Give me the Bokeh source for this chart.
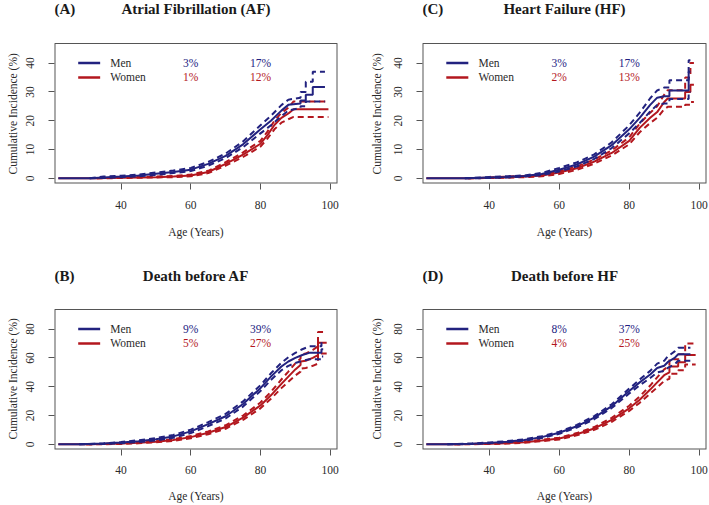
from bokeh.plotting import figure
from bokeh.layouts import column, row
from bokeh.models import FixedTicker, Range1d, Title
from bokeh.core.properties import value
from bokeh.embed import file_html
from bokeh.resources import INLINE

FONT = "Liberation Serif"
MEN_C = "#22227f"
WOMEN_C = "#b3171e"
TXT = "#2a2a2a"
FRAME = "#555555"

X_TICKS = [40, 60, 80, 100]
Y_TICKS_INC = [0, 10, 20, 30, 40]
Y_TICKS_DEATH = [0, 20, 40, 60, 80]
LEGEND_LABELS = ["Men", "Women"]

# (A) Atrial fibrillation
AF_M_AGE = [22, 31, 35, 40, 45, 50, 55, 60, 65, 70, 75, 80, 83, 86, 88, 91.5, 91.5, 93, 93, 95, 95, 98.5]
AF_M_EST = [0, 0, 0.3, 0.6, 1.0, 1.6, 2.2, 3.0, 5.0, 7.8, 11.8, 17.0, 20.0, 23.5, 25.5, 26.0, 27.0, 27.0, 29.0, 29.0, 31.7, 31.7]
AF_M_LO = [0, 0, 0.1, 0.4, 0.7, 1.2, 1.8, 2.5, 4.4, 7.0, 10.8, 15.6, 18.4, 21.6, 23.5, 24.5, 25.0, 25.0, 26.7, 26.7, 26.7, 26.7]
AF_M_HI = [0, 0, 0.6, 0.9, 1.3, 2.0, 2.7, 3.6, 5.7, 8.6, 12.8, 18.4, 21.7, 25.4, 27.3, 28.0, 30.0, 30.0, 33.5, 33.5, 37.0, 37.0]
AF_W_AGE = [22, 33, 40, 45, 50, 55, 60, 65, 70, 75, 80, 82, 84, 86, 88, 89.5, 91, 93, 99.5]
AF_W_EST = [0, 0, 0.2, 0.3, 0.4, 0.6, 1.0, 2.2, 5.0, 8.2, 12.0, 15.0, 18.5, 21.0, 22.5, 24.0, 24.0, 24.0, 24.0]
AF_W_LO = [0, 0, 0.1, 0.2, 0.3, 0.4, 0.7, 1.8, 4.4, 7.4, 11.0, 13.8, 17.0, 19.3, 20.5, 21.3, 21.3, 21.3, 21.3]
AF_W_HI = [0, 0, 0.3, 0.5, 0.6, 0.8, 1.3, 2.6, 5.6, 9.0, 13.0, 16.2, 20.0, 22.7, 24.5, 26.7, 26.7, 26.7, 26.7]
AF_AT60 = [3, 1]
AF_AT80 = [17, 12]

# (B) Death before AF
DA_M_AGE = [22, 28, 35, 40, 45, 50, 55, 60, 65, 70, 75, 80, 83, 86, 88, 90, 92, 94, 96, 97.5, 97.5, 98]
DA_M_EST = [0, 0, 0.5, 1.2, 2.2, 3.5, 5.5, 9.0, 14.0, 19.5, 28.0, 39.0, 47.0, 54.0, 57.5, 60.0, 62.0, 63.5, 63.5, 63.5, 66.0, 66.0]
DA_M_LO = [0, 0, 0.3, 0.8, 1.6, 2.7, 4.5, 7.8, 12.6, 17.9, 26.2, 37.0, 44.7, 51.4, 54.5, 56.5, 58.0, 59.0, 59.0, 59.0, 61.0, 61.0]
DA_M_HI = [0, 0, 0.7, 1.6, 2.8, 4.3, 6.5, 10.2, 15.4, 21.1, 29.8, 41.0, 49.3, 56.6, 60.5, 63.5, 66.0, 68.0, 68.0, 68.0, 71.0, 71.0]
DA_W_AGE = [22, 30, 35, 40, 45, 50, 55, 60, 65, 70, 75, 80, 83, 86, 88, 90, 91.5, 91.5, 93, 95, 96.5, 96.5, 99]
DA_W_EST = [0, 0, 0.2, 0.5, 1.0, 1.8, 3.0, 5.0, 8.0, 12.0, 18.5, 27.0, 34.0, 42.0, 47.0, 52.0, 55.0, 57.5, 58.0, 60.0, 62.0, 70.5, 70.5]
DA_W_LO = [0, 0, 0.1, 0.3, 0.7, 1.4, 2.4, 4.2, 7.0, 10.8, 17.0, 25.0, 31.6, 39.0, 43.5, 47.8, 50.5, 52.5, 53.0, 54.5, 56.0, 63.0, 63.0]
DA_W_HI = [0, 0, 0.3, 0.7, 1.3, 2.2, 3.6, 5.8, 9.0, 13.2, 20.0, 29.0, 36.4, 45.0, 50.5, 56.2, 59.5, 62.5, 63.0, 65.5, 68.0, 78.0, 78.0]
DA_AT60 = [9, 5]
DA_AT80 = [39, 27]

# (C) Heart failure
HF_M_AGE = [22, 33, 40, 45, 50, 55, 60, 65, 70, 75, 80, 83, 86, 88, 90, 91.5, 91.5, 97, 97, 97.5]
HF_M_EST = [0, 0, 0.3, 0.5, 0.8, 1.5, 3.0, 4.8, 7.5, 11.5, 17.0, 21.0, 25.5, 28.0, 28.5, 28.5, 30.5, 30.5, 37.0, 37.0]
HF_M_LO = [0, 0, 0.1, 0.3, 0.6, 1.1, 2.4, 4.1, 6.7, 10.5, 15.6, 19.2, 23.2, 25.5, 26.0, 26.0, 27.5, 27.5, 30.0, 30.0]
HF_M_HI = [0, 0, 0.5, 0.7, 1.0, 1.9, 3.6, 5.5, 8.3, 12.5, 18.4, 22.8, 27.8, 30.5, 31.5, 31.5, 34.0, 34.0, 41.0, 41.0]
HF_W_AGE = [22, 34, 40, 45, 50, 55, 60, 65, 70, 75, 80, 83, 86, 88, 90, 91, 96, 96, 97.5, 97.5, 98.5]
HF_W_EST = [0, 0, 0.2, 0.4, 0.6, 1.0, 2.0, 3.5, 5.8, 8.8, 13.0, 17.5, 21.0, 23.0, 26.5, 27.7, 27.7, 30.0, 30.0, 32.5, 32.5]
HF_W_LO = [0, 0, 0.1, 0.2, 0.4, 0.7, 1.5, 2.9, 5.1, 7.9, 11.8, 16.0, 19.2, 21.0, 24.0, 24.8, 24.8, 25.5, 25.5, 26.5, 26.5]
HF_W_HI = [0, 0, 0.3, 0.6, 0.8, 1.3, 2.5, 4.1, 6.5, 9.7, 14.2, 19.0, 22.8, 25.0, 29.0, 30.6, 30.6, 35.0, 35.0, 40.0, 40.0]
HF_AT60 = [3, 2]
HF_AT80 = [17, 13]

# (D) Death before HF
DH_M_AGE = [22, 28, 35, 40, 45, 50, 55, 60, 65, 70, 75, 80, 83, 86, 88, 90, 91, 93, 94, 97.5]
DH_M_EST = [0, 0, 0.4, 1.0, 1.8, 3.0, 5.0, 8.0, 12.5, 18.5, 26.5, 37.0, 43.0, 48.5, 53.0, 54.5, 57.0, 60.0, 62.5, 62.5]
DH_M_LO = [0, 0, 0.2, 0.7, 1.4, 2.5, 4.4, 7.3, 11.6, 17.4, 25.2, 35.3, 41.0, 46.0, 50.0, 51.0, 53.0, 55.5, 58.0, 58.0]
DH_M_HI = [0, 0, 0.6, 1.3, 2.2, 3.5, 5.6, 8.7, 13.4, 19.6, 27.8, 38.7, 45.0, 51.0, 56.0, 58.0, 61.0, 64.5, 67.0, 67.0]
DH_W_AGE = [22, 30, 35, 40, 45, 50, 55, 60, 65, 70, 75, 80, 83, 86, 88, 90, 91.5, 91.5, 94, 94, 96, 96, 99]
DH_W_EST = [0, 0, 0.2, 0.4, 0.8, 1.5, 2.7, 4.0, 7.0, 11.0, 17.0, 25.0, 31.0, 38.0, 43.0, 48.0, 50.0, 54.0, 54.0, 57.0, 57.0, 62.0, 62.0]
DH_W_LO = [0, 0, 0.1, 0.2, 0.5, 1.1, 2.2, 3.4, 6.2, 10.0, 15.6, 23.2, 28.8, 35.2, 39.5, 44.0, 45.5, 49.0, 49.0, 51.5, 51.5, 55.5, 55.5]
DH_W_HI = [0, 0, 0.3, 0.6, 1.1, 1.9, 3.2, 4.6, 7.8, 12.0, 18.4, 26.8, 33.2, 40.8, 46.5, 52.0, 54.5, 59.0, 59.0, 62.5, 62.5, 70.0, 70.0]
DH_AT60 = [8, 4]
DH_AT80 = [37, 25]

X_START, X_END = 20.9, 102.1


def make_panel(tag, title, ymax, yticks, men, women, at60, at80,
               width, height, bl, br, bb, box_top, title_gap,
               x_lab_standoff, x_title_standoff, ylab_offset, ylab_standoff):
    # box (the visible plot region) spans y0..y1; frame extends upward to hold titles
    y0, y1 = -0.04 * ymax, 1.04 * ymax
    frame_h = height - bb
    box_h = frame_h - box_top
    per_px = (y1 - y0) / box_h
    ytop = y0 + frame_h * per_px
    p = figure(width=width, height=height, title=None,
               x_range=Range1d(X_START, X_END), y_range=Range1d(y0, ytop),
               output_backend="svg", toolbar_location=None,
               min_border_left=bl, min_border_right=br,
               min_border_top=0, min_border_bottom=bb)
    p.grid.visible = False
    p.outline_line_color = None
    p.background_fill_color = "white"
    p.border_fill_color = "white"

    for ax, ticks in ((p.xaxis, X_TICKS), (p.yaxis, yticks)):
        ax.ticker = FixedTicker(ticks=ticks)
        ax.axis_line_color = None
        ax.major_tick_out = 6
        ax.major_tick_in = 0
        ax.minor_tick_out = 0
        ax.minor_tick_in = 0
        ax.major_tick_line_color = FRAME
        ax.major_label_text_font = FONT
        ax.major_label_text_font_size = "11.5px"
        ax.major_label_text_color = TXT
        ax.axis_label_text_font = FONT
        ax.axis_label_text_font_size = "11.5px"
        ax.axis_label_text_font_style = "normal"
        ax.axis_label_text_color = TXT
    p.xaxis.axis_label = "Age (Years)"
    p.xaxis.major_label_standoff = x_lab_standoff
    p.xaxis.axis_label_standoff = x_title_standoff
    p.yaxis.major_label_standoff = 14
    p.yaxis.major_label_orientation = "vertical"
    p.add_layout(Title(text="Cumulative Incidence (%)", align="left",
                       offset=ylab_offset, standoff=ylab_standoff,
                       text_font=FONT, text_font_size="11.5px",
                       text_font_style="normal", text_color=TXT), "left")

    # box edges (left/bottom/right sit on the frame edge, half clipped)
    p.line([X_START, X_START, X_END, X_END], [y1, y0, y0, y1],
           color=FRAME, line_width=2)
    p.line([X_START, X_END], [y1, y1], color=FRAME, line_width=1)

    for (age, est, lo, hi), col in ((women, WOMEN_C), (men, MEN_C)):
        p.line(age[1:], lo[1:], color=col, line_width=2, line_dash="6 4")
        p.line(age[1:], hi[1:], color=col, line_width=2, line_dash="6 4")
        p.line(age, est, color=col, line_width=2)

    rows_y = [ymax * 40 / 45, ymax * 35 / 45]
    for i, col in enumerate((MEN_C, WOMEN_C)):
        ry = rows_y[i]
        p.line([27.7, 34.0], [ry, ry], color=col, line_width=2.5)
        p.text(x=[36.9], y=[ry], text=[LEGEND_LABELS[i]], text_align="left",
               text_baseline="middle", text_font=value(FONT),
               text_font_size=value("11.5px"), text_color=TXT)
        p.text(x=[60, 80], y=[ry, ry], text=[f"{at60[i]}%", f"{at80[i]}%"],
               text_align="center", text_baseline="middle",
               text_font=value(FONT), text_font_size=value("11.5px"),
               text_color=col)

    ty = y1 + title_gap * per_px
    p.text(x=[X_START], y=[ty], text=[tag], text_align="left",
           text_baseline="middle", text_font=value(FONT),
           text_font_size=value("15px"), text_font_style="bold",
           text_color="#1a1a1a")
    p.text(x=[(X_START + X_END) / 2], y=[ty], text=[title], text_align="center",
           text_baseline="middle", text_font=value(FONT),
           text_font_size=value("15px"), text_font_style="bold",
           text_color="#1a1a1a")
    return p


pA = make_panel("(A)", "Atrial Fibrillation (AF)", 45, Y_TICKS_INC,
                (AF_M_AGE, AF_M_EST, AF_M_LO, AF_M_HI),
                (AF_W_AGE, AF_W_EST, AF_W_LO, AF_W_HI), AF_AT60, AF_AT80,
                354, 252, 53, 17, 69, 43, 35, 11, 14, 9, 9)
pC = make_panel("(C)", "Heart Failure (HF)", 45, Y_TICKS_INC,
                (HF_M_AGE, HF_M_EST, HF_M_LO, HF_M_HI),
                (HF_W_AGE, HF_W_EST, HF_W_LO, HF_W_HI), HF_AT60, HF_AT80,
                354, 252, 68, 2, 69, 43, 35, 11, 14, 9, 17)
pB = make_panel("(B)", "Death before AF", 90, Y_TICKS_DEATH,
                (DA_M_AGE, DA_M_EST, DA_M_LO, DA_M_HI),
                (DA_W_AGE, DA_W_EST, DA_W_LO, DA_W_HI), DA_AT60, DA_AT80,
                354, 253, 53, 17, 56, 57, 34, 10, 13, 10, 9)
pD = make_panel("(D)", "Death before HF", 90, Y_TICKS_DEATH,
                (DH_M_AGE, DH_M_EST, DH_M_LO, DH_M_HI),
                (DH_W_AGE, DH_W_EST, DH_W_LO, DH_W_HI), DH_AT60, DH_AT80,
                354, 253, 68, 2, 56, 57, 34, 10, 13, 10, 17)

layout = column(row(pA, pC), row(pB, pD))
open("out.html", "w").write(file_html(layout, INLINE))
